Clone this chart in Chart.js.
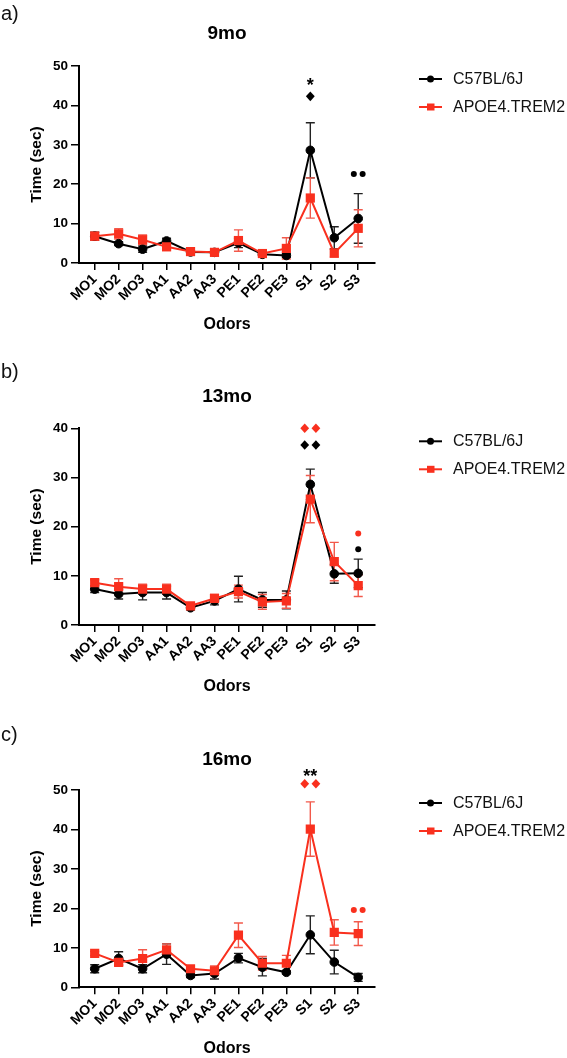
<!DOCTYPE html>
<html>
<head>
<meta charset="utf-8">
<script src="https://cdn.jsdelivr.net/npm/chart.js@4.4.1/dist/chart.umd.min.js"></script>
<style>
html,body{margin:0;padding:0;background:#fff;}
#wrap{position:relative;width:567px;height:1058px;overflow:hidden;}
canvas{position:absolute;left:0;}
</style>
</head>
<body>
<div id="wrap">
<canvas id="ca" width="567" height="345" style="top:0px"></canvas>
<canvas id="cb" width="567" height="355" style="top:345px"></canvas>
<canvas id="cc" width="567" height="358" style="top:700px"></canvas>
</div>
<script>
// ---------- DATA ----------
const odors = ['MO1','MO2','MO3','AA1','AA2','AA3','PE1','PE2','PE3','S1','S2','S3'];
const seriesNames = ['C57BL/6J', 'APOE4.TREM2'];
const yTicks50 = [0, 10, 20, 30, 40, 50];
const yTicks40 = [0, 10, 20, 30, 40];

// 9 months
const c57_9mo      = [6.8, 4.9, 3.5, 5.6, 2.8, 2.7, 5.1, 2.2, 1.9, 28.6, 6.4, 11.3];
const c57_9mo_sem  = [1.0, 0.5, 0.8, 0.7, 0.3, 0.3, 1.2, 0.4, 0.5, 7.0, 2.8, 6.3];
const apoe_9mo     = [6.8, 7.4, 5.9, 4.1, 2.9, 2.7, 5.7, 2.4, 3.7, 16.5, 2.5, 8.8];
const apoe_9mo_sem = [1.0, 1.3, 1.2, 0.6, 0.3, 0.3, 2.7, 0.4, 2.7, 5.1, 1.0, 4.7];
const notes_9mo = [
  {odor: 'S1', value: 46.2, mark: '*',  series: 0},
  {odor: 'S1', value: 42.3, mark: '◆',  series: 0},
  {odor: 'S3', value: 22.6, mark: '●●', series: 0}
];

// 13 months
const c57_13mo      = [7.3, 6.3, 6.6, 6.6, 3.5, 4.9, 7.3, 5.1, 5.1, 28.6, 10.4, 10.5];
const c57_13mo_sem  = [0.7, 1.0, 1.5, 1.3, 0.4, 0.8, 2.6, 1.5, 1.8, 3.1, 1.9, 2.9];
const apoe_13mo     = [8.6, 7.8, 7.3, 7.3, 3.9, 5.4, 6.8, 4.7, 4.9, 25.6, 12.9, 8.0];
const apoe_13mo_sem = [0.6, 1.6, 1.0, 1.0, 0.4, 0.8, 1.3, 1.5, 1.5, 4.8, 3.9, 2.2];
const notes_13mo = [
  {odor: 'S1', value: 40.0, mark: '◆◆', series: 1},
  {odor: 'S1', value: 36.6, mark: '◆◆', series: 0},
  {odor: 'S3', value: 18.6, mark: '●',  series: 1},
  {odor: 'S3', value: 15.4, mark: '●',  series: 0}
];

// 16 months
const c57_16mo      = [4.7, 7.3, 4.7, 8.4, 3.0, 3.5, 7.4, 5.1, 3.8, 13.3, 6.4, 2.5];
const c57_16mo_sem  = [1.0, 1.7, 1.0, 2.6, 0.5, 1.4, 1.2, 2.2, 0.4, 4.8, 3.0, 1.0];
const apoe_16mo     = [8.6, 6.3, 7.3, 9.5, 4.7, 4.2, 13.2, 6.1, 6.1, 40.1, 13.9, 13.6];
const apoe_16mo_sem = [0.5, 0.6, 2.2, 1.5, 0.7, 1.2, 3.1, 1.7, 2.0, 6.9, 3.2, 3.0];
const notes_16mo = [
  {odor: 'S1', value: 54.8, mark: '**', series: 0},
  {odor: 'S1', value: 51.6, mark: '◆◆', series: 1},
  {odor: 'S3', value: 19.6, mark: '●●', series: 1}
];

const panels = [
  {id: 'ca', letter: 'a)', title: '9mo',  yMax: 50, yTicks: yTicks50,
   c57: c57_9mo, c57Sem: c57_9mo_sem, apoe: apoe_9mo, apoeSem: apoe_9mo_sem, notes: notes_9mo},
  {id: 'cb', letter: 'b)', title: '13mo', yMax: 40, yTicks: yTicks40,
   c57: c57_13mo, c57Sem: c57_13mo_sem, apoe: apoe_13mo, apoeSem: apoe_13mo_sem, notes: notes_13mo},
  {id: 'cc', letter: 'c)', title: '16mo', yMax: 50, yTicks: yTicks50,
   c57: c57_16mo, c57Sem: c57_16mo_sem, apoe: apoe_16mo, apoeSem: apoe_16mo_sem, notes: notes_16mo}
];

// ---------- LAYOUT / STYLE ----------
const layouts = [
  {canvasTop: 0,   H: 345, areaTop: 66,    areaBottom: 263,   odorsY: 325,  titleY: 34,  letterY: 14},
  {canvasTop: 345, H: 355, areaTop: 428.3, areaBottom: 625,   odorsY: 687,  titleY: 397, letterY: 372},
  {canvasTop: 700, H: 358, areaTop: 790,   areaBottom: 987.3, odorsY: 1049, titleY: 760, letterY: 735}
];
const AREA_LEFT = 79, AREA_RIGHT = 375, W = 567;
const BLACK = '#000000';
const RED = '#F9301E';
const RED_ERR = '#F2594B';
const BLACK_ERR = '#222222';
const FONT = '"Liberation Sans", Arial, Helvetica, sans-serif';
const seriesColors = [BLACK, RED];

Chart.defaults.font.family = FONT;
Chart.defaults.color = '#000';

const errorBars = {
  id: 'errorBars',
  beforeDatasetsDraw(chart) {
    const {ctx, scales: {x, y}} = chart;
    chart.data.datasets.forEach(ds => {
      ctx.save();
      ctx.strokeStyle = ds.errColor;
      ctx.lineWidth = 1.4;
      ds.data.forEach((pt, i) => {
        const e = ds.sem[i];
        const px = x.getPixelForValue(pt.x);
        const yt = y.getPixelForValue(pt.y + e);
        const yb = y.getPixelForValue(Math.max(0, pt.y - e));
        ctx.beginPath();
        ctx.moveTo(px, yt); ctx.lineTo(px, yb);
        ctx.moveTo(px - 4.5, yt); ctx.lineTo(px + 4.5, yt);
        ctx.moveTo(px - 4.5, yb); ctx.lineTo(px + 4.5, yb);
        ctx.stroke();
      });
      ctx.restore();
    });
  }
};

const notesPlugin = {
  id: 'notes',
  afterDatasetsDraw(chart, args, opts) {
    const {ctx, scales: {x, y}} = chart;
    (opts.items || []).forEach(n => {
      const cx = x.getPixelForValue(odors.indexOf(n.odor));
      const cy = y.getPixelForValue(n.value);
      const col = seriesColors[n.series];
      ctx.save();
      ctx.fillStyle = col;
      if (n.mark[0] === '*') {
        ctx.font = 'bold 18px ' + FONT;
        ctx.textAlign = 'center';
        ctx.textBaseline = 'alphabetic';
        ctx.fillText(n.mark, cx, cy + 10.5);
      } else {
        const k = n.mark.length;
        const gap = n.mark[0] === '◆' ? 5.6 : 4.4;
        for (let j = 0; j < k; j++) {
          const ox = cx + (k === 1 ? 0 : (j === 0 ? -gap : gap));
          ctx.beginPath();
          if (n.mark[0] === '◆') {
            ctx.moveTo(ox, cy - 4.8);
            ctx.lineTo(ox + 4.4, cy);
            ctx.lineTo(ox, cy + 4.8);
            ctx.lineTo(ox - 4.4, cy);
            ctx.closePath();
          } else {
            ctx.arc(ox, cy, 3.0, 0, Math.PI * 2);
          }
          ctx.fill();
        }
      }
      ctx.restore();
    });
  }
};

const panelText = {
  id: 'panelText',
  afterDraw(chart, args, opts) {
    const {ctx, chartArea} = chart;
    ctx.save();
    // letter
    ctx.fillStyle = '#111';
    ctx.font = '20px ' + FONT;
    ctx.textAlign = 'left';
    ctx.textBaseline = 'middle';
    ctx.fillText(opts.letter, 1, opts.letterY);
    // title
    ctx.fillStyle = '#000';
    ctx.font = 'bold 19px ' + FONT;
    ctx.textAlign = 'center';
    ctx.fillText(opts.title, (chartArea.left + chartArea.right) / 2, opts.titleY);
    // legend
    chart.data.datasets.forEach((ds, k) => {
      const ly = chartArea.top + 13 + k * 28;
      ctx.strokeStyle = ds.borderColor;
      ctx.fillStyle = ds.borderColor;
      ctx.lineWidth = 2;
      ctx.beginPath();
      ctx.moveTo(419, ly); ctx.lineTo(442, ly);
      ctx.stroke();
      ctx.beginPath();
      if (ds.pointStyle === 'circle') {
        ctx.arc(430.5, ly, 3.5, 0, Math.PI * 2);
        ctx.fill();
      } else {
        ctx.fillRect(427, ly - 3.5, 7.5, 7);
      }
      ctx.fillStyle = '#111';
      ctx.font = '16px ' + FONT;
      ctx.textAlign = 'left';
      ctx.textBaseline = 'middle';
      ctx.fillText(ds.label, 453, ly + 0.5);
    });
    ctx.restore();
  }
};

function makeChart(p, L) {
  const canvas = document.getElementById(p.id);
  const xAxisH = L.H - (L.areaBottom - L.canvasTop);
  const odorsRel = L.odorsY - L.canvasTop;
  new Chart(canvas, {
    type: 'line',
    data: {
      datasets: [
        {
          label: seriesNames[0],
          data: p.c57.map((v, i) => ({x: i, y: v})),
          sem: p.c57Sem,
          errColor: BLACK_ERR,
          borderColor: BLACK, backgroundColor: BLACK,
          pointBackgroundColor: BLACK, pointBorderColor: BLACK,
          pointStyle: 'circle', pointRadius: 4.3, pointBorderWidth: 1,
          borderWidth: 2, tension: 0, order: 2
        },
        {
          label: seriesNames[1],
          data: p.apoe.map((v, i) => ({x: i, y: v})),
          sem: p.apoeSem,
          errColor: RED_ERR,
          borderColor: RED, backgroundColor: RED,
          pointBackgroundColor: RED, pointBorderColor: RED,
          pointStyle: 'rect', pointRadius: 6.5, pointBorderWidth: 0,
          borderWidth: 2, tension: 0, order: 1
        }
      ]
    },
    options: {
      responsive: false,
      animation: false,
      events: [],
      layout: {padding: {top: L.areaTop - L.canvasTop, left: 0, right: W - AREA_RIGHT, bottom: 0}},
      plugins: {
        legend: {display: false},
        tooltip: {enabled: false},
        notes: {items: p.notes},
        panelText: {letter: p.letter, title: p.title,
                    letterY: L.letterY - L.canvasTop, titleY: L.titleY - L.canvasTop}
      },
      scales: {
        x: {
          type: 'linear',
          min: -0.655, max: 11.7,
          afterBuildTicks: s => { s.ticks = odors.map((_, i) => ({value: i})); },
          afterFit: s => { s.height = xAxisH; },
          ticks: {
            autoSkip: false, minRotation: 45, maxRotation: 45,
            callback: v => odors[v],
            font: {size: 14, weight: 'bold'}, color: '#000', padding: 1
          },
          grid: {drawOnChartArea: false, drawTicks: true, tickLength: 7, color: '#000', lineWidth: 1.5},
          border: {display: true, color: '#000', width: 2},
          title: {
            display: true, text: 'Odors', color: '#000',
            font: {size: 16, weight: 'bold'},
            padding: {top: 0, bottom: Math.max(0, L.H - odorsRel - 9.6)}
          }
        },
        y: {
          min: 0, max: p.yMax,
          afterBuildTicks: s => { s.ticks = p.yTicks.map(v => ({value: v})); },
          afterFit: s => { s.width = AREA_LEFT; },
          ticks: {font: {size: 13.5, weight: 'bold'}, color: '#000', padding: 3},
          grid: {drawOnChartArea: false, drawTicks: true, tickLength: 8, color: '#000', lineWidth: 1.5},
          border: {display: true, color: '#000', width: 2},
          title: {
            display: true, text: 'Time (sec)', color: '#000',
            font: {size: 15.5, weight: 'bold'},
            padding: {top: 27.5, bottom: 0}
          }
        }
      }
    },
    plugins: [errorBars, notesPlugin, panelText]
  });
}

panels.forEach((p, i) => makeChart(p, layouts[i]));
</script>
</body>
</html>
